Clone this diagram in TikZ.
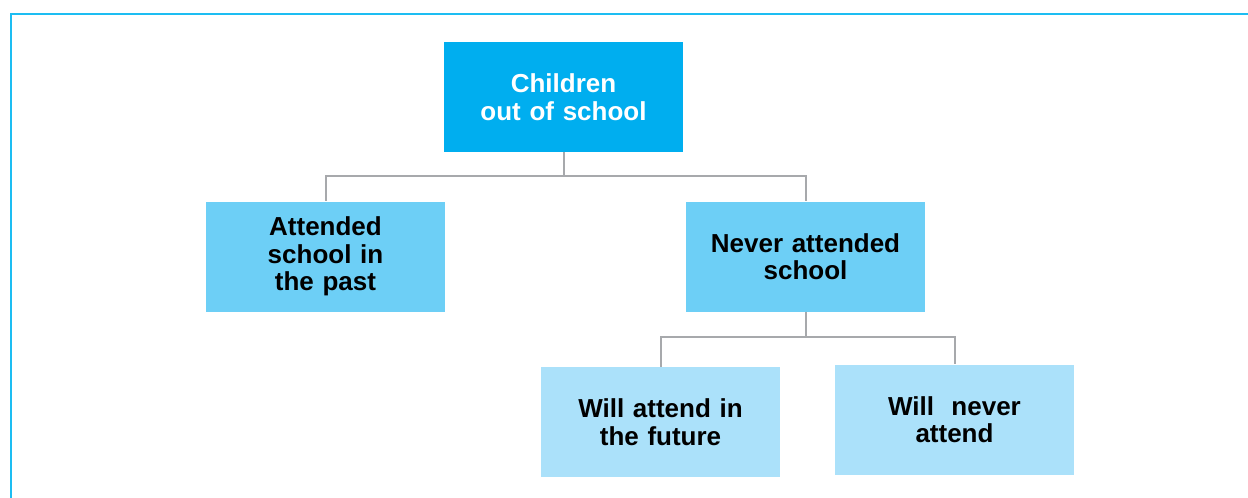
\documentclass[tikz,border=0pt]{standalone}
\usepackage{fontspec}
\setmainfont{Liberation Sans}
\usepackage{tikz}
\usetikzlibrary{positioning}

% Colors
\definecolor{framecolor}{HTML}{1DBDF2}
\definecolor{topcolor}{HTML}{00AEEF}
\definecolor{midcolor}{HTML}{6DCFF6}
\definecolor{lowcolor}{HTML}{ABE1FA}
\definecolor{linkcolor}{HTML}{A7A9AC}

% Styles
\tikzstyle{box} = [rectangle, minimum width=239pt, minimum height=110pt, inner sep=0pt, text width=230pt, align=center, font=\fontsize{26}{27.5}\selectfont\bfseries]
\tikzstyle{topbox} = [box, fill=topcolor, text=white]
\tikzstyle{midbox} = [box, fill=midcolor, text=black]
\tikzstyle{lowbox} = [box, fill=lowcolor, text=black]
\tikzstyle{link} = [draw=linkcolor, line width=2pt]

\begin{document}
\begin{tikzpicture}[x=1pt,y=-1pt]
  \useasboundingbox (0,0) rectangle (1248,498);

  % The frame
  \draw[framecolor,line width=2.5pt] (11,498) -- (11,14) -- (1248,14);

  % The boxes
  \node[topbox] (children) at (563.5,97) {Children\\out of school};
  \node[midbox] (attended) at (325.5,256.5) {Attended\\school in\\the past};
  \node[midbox] (never) at (805.5,256.5) {Never attended\\school};
  \node[lowbox] (future) at (660.5,422) {Will attend in\\the future};
  \node[lowbox] (notever) at (954.5,419.5) {Will\ \ never\\attend};

  % The links
  \draw[link] (children.south) -- ++(0,24) -| (attended.north);
  \draw[link] (children.south) -- ++(0,24) -| (never.north);
  \draw[link] (never.south) -- ++(0,25) -| (future.north);
  \draw[link] (never.south) -- ++(0,25) -| (notever.north);
\end{tikzpicture}
\end{document}
